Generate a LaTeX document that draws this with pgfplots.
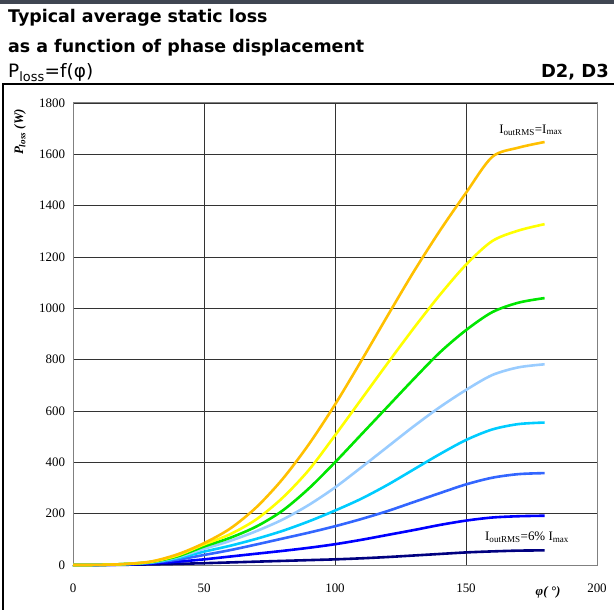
\documentclass[border=0pt]{standalone}
\usepackage{fontspec}
\setmainfont{Liberation Serif}
\newfontfamily\headfont{DejaVu Sans}
\usepackage{pgfplots}
\usepackage{pgfplotstable}
\pgfplotsset{compat=1.18}

\definecolor{cOrange}{HTML}{FFC000}
\definecolor{cYellow}{HTML}{FFFF00}
\definecolor{cGreen}{HTML}{00E600}
\definecolor{cLightBlue}{HTML}{99CCFF}
\definecolor{cCyan}{HTML}{00CCFF}
\definecolor{cMidBlue}{HTML}{3366FF}
\definecolor{cBlue}{HTML}{0000FF}
\definecolor{cNavy}{HTML}{000080}
\definecolor{barGrey}{HTML}{404652}

% Static loss (W) versus phase displacement (deg), one column per output current
% a = 6% Imax ... h = Imax
\pgfplotstableread{
phi  a    b    c    d    e    f    g    h
0    0    0    0    0    0    0    0    0
10   0    0.2  0.3  0.4  0.5  0.5  0.5  0.5
20   1    2    3    3.5  4    4    4    4
30   2.5  6    9    10   11   12   13   14
40   4.5  13   21   27   31   34   38   42
50   7    22   39   52   63   72   80   85
60   10   33   58   75   94   106  120  142
70   13   44   80   102  132  150  178  225
80   16   55   103  133  177  212  262  335
90   19   67   126  170  234  298  370  470
100  22   81   151  212  302  400  505  625
110  26   98   179  258  380  508  645  795
120  31   117  210  312  460  616  785  970
130  37   136  245  372  540  724  922  1142
140  43   156  280  432  615  828  1052 1302
150  49   173  314  487  682  915  1170 1450
160  53   185  340  528  740  985  1262 1590
170  56   190  354  549  770  1022 1303 1626
180  57   192  358  555  782  1040 1328 1648
}\losstable

\begin{document}
\begin{tikzpicture}
\useasboundingbox (0,0) rectangle (614bp,610bp);
% header band and titles
\fill[barGrey] (0,606bp) rectangle (614bp,610bp);
\node[anchor=base west, inner sep=0pt, font=\headfont\bfseries\fontsize{17.5}{20}\selectfont]
  at (8bp,587.5bp) {Typical average static loss};
\node[anchor=base west, inner sep=0pt, font=\headfont\bfseries\fontsize{17.5}{20}\selectfont]
  at (8bp,557.5bp) {as a function of phase displacement};
\node[anchor=base west, inner sep=0pt, font=\headfont\fontsize{18.5}{20}\selectfont]
  at (8bp,532bp) {P\textsubscript{loss}=f(φ)};
\node[anchor=base east, inner sep=0pt, font=\headfont\bfseries\fontsize{18}{20}\selectfont]
  at (609bp,532bp) {D2, D3};
% frame around the diagram
\draw[line width=1.4bp] (3bp,0) -- (3bp,526bp) -- (614bp,526bp);

\begin{axis}[
  at={(73bp,45bp)}, anchor=south west,
  scale only axis, width=524bp, height=462bp,
  xmin=0, xmax=200, ymin=0, ymax=1800,
  xtick={0,50,100,150,200}, ytick={0,200,...,1800},
  major tick length=0pt,
  grid=major,
  major grid style={black!80, line width=0.8bp},
  axis line style={black!50, line width=1bp},
  tick label style={font=\fontsize{13}{15}\selectfont},
  /pgf/number format/assume math mode=true,
  /pgf/number format/1000 sep={},
  xticklabel style={yshift=-15bp},
  yticklabel style={xshift=-4.5bp},
  clip=false,
  every axis plot/.append style={line width=2.6bp, smooth, no markers},
]
\addplot[cNavy]      table[x=phi, y=a] {\losstable};
\addplot[cBlue]      table[x=phi, y=b] {\losstable};
\addplot[cMidBlue]   table[x=phi, y=c] {\losstable};
\addplot[cCyan]      table[x=phi, y=d] {\losstable};
\addplot[cLightBlue] table[x=phi, y=e] {\losstable};
\addplot[cGreen]     table[x=phi, y=f] {\losstable};
\addplot[cYellow]    table[x=phi, y=g] {\losstable};
\addplot[cOrange]    table[x=phi, y=h] {\losstable};

\node[font=\fontsize{13}{15}\selectfont] at (axis cs:174.8,1695)
  {I\textsubscript{outRMS}=I\textsubscript{max}};
\node[font=\fontsize{13}{15}\selectfont] at (axis cs:173.3,109)
  {I\textsubscript{outRMS}=6\% I\textsubscript{max}};
\node[rotate=90, font=\bfseries\itshape\fontsize{13}{15}\selectfont] at (axis cs:-20.2,1687)
  {P\textsubscript{loss} (W)};
\node[font=\bfseries\itshape\fontsize{13}{15}\selectfont] at (axis cs:181.3,-105)
  {φ( °)};
\end{axis}
\end{tikzpicture}
\end{document}
